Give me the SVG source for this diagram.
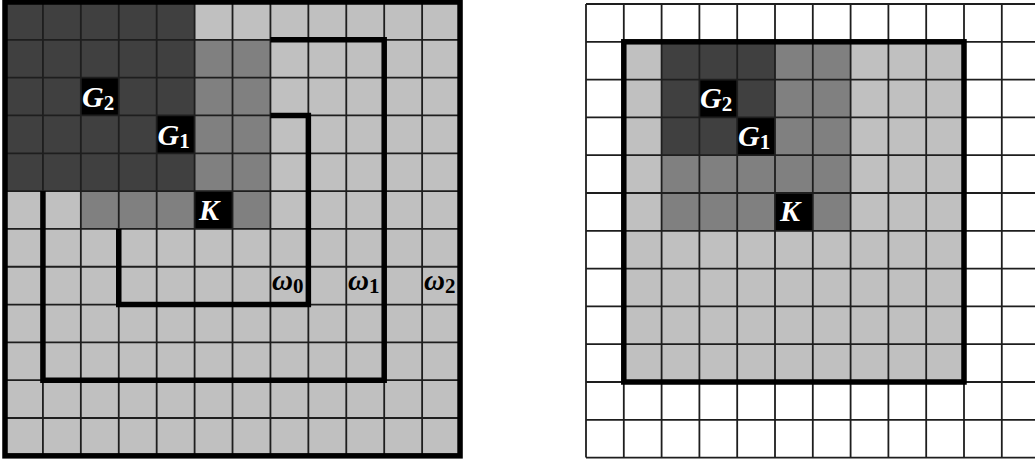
<svg xmlns="http://www.w3.org/2000/svg" width="1035" height="459" viewBox="0 0 1035 459">
<style>
.lt{fill:#c0c0c0}.md{fill:#808080}.dk{fill:#404040}.bk{fill:#000}.wh{fill:#fff}
.grid{stroke:#1e1e1e;stroke-width:1.8;fill:none}
.thick{stroke:#000;stroke-width:5.5;fill:none;stroke-linejoin:miter}
.lab{font-family:"Liberation Serif","DejaVu Serif",serif;font-style:italic;font-weight:bold;font-size:30px}
.om{font-size:29px}
.w{fill:#fff}.b{fill:#000}
.sub{font-style:normal;font-size:21px}
</style>
<g id="left-panel">
<rect class="lt" x="5" y="2" width="455.04" height="453.84"/>
<rect class="dk" x="5" y="2" width="189.6" height="189.1"/>
<rect class="md" x="194.6" y="39.82" width="75.84" height="151.28"/>
<rect class="md" x="80.84" y="191.1" width="113.76" height="37.82"/>
<rect class="md" x="232.52" y="191.1" width="37.92" height="37.82"/>
<rect class="bk" x="80.84" y="77.64" width="37.92" height="37.82"/>
<rect class="bk" x="156.68" y="115.46" width="37.92" height="37.82"/>
<rect class="bk" x="194.6" y="191.1" width="37.92" height="37.82"/>
<path class="grid" d="M42.92,2V455.84M80.84,2V455.84M118.76,2V455.84M156.68,2V455.84M194.6,2V455.84M232.52,2V455.84M270.44,2V455.84M308.36,2V455.84M346.28,2V455.84M384.2,2V455.84M422.12,2V455.84M5,39.82H460.04M5,77.64H460.04M5,115.46H460.04M5,153.28H460.04M5,191.1H460.04M5,228.92H460.04M5,266.74H460.04M5,304.56H460.04M5,342.38H460.04M5,380.2H460.04M5,418.02H460.04"/>
<g id="omega2"><rect class="thick" x="5" y="2" width="455.04" height="453.84"/></g>
<g id="omega0"><path class="thick" d="M270.44,115.46H308.36V304.56H118.76V228.92"/></g>
<g id="omega1"><path class="thick" d="M270.44,39.82H384.2V380.2H42.92V191.1"/></g>
<g id="left-labels">
<text class="lab w" x="82" y="107">G<tspan class="sub" dy="3">2</tspan></text>
<text class="lab w" x="157.5" y="145">G<tspan class="sub" dy="3">1</tspan></text>
<text class="lab w" x="199" y="220">K</text>
<text class="lab om b" x="272" y="290">ω<tspan class="sub" dy="3">0</tspan></text>
<text class="lab om b" x="348" y="290">ω<tspan class="sub" dy="3">1</tspan></text>
<text class="lab om b" x="424" y="290">ω<tspan class="sub" dy="3">2</tspan></text>
</g>
</g>
<g id="right-panel">
<rect class="wh" x="586" y="4" width="453.6" height="453.6"/>
<rect class="lt" x="623.8" y="41.8" width="340.2" height="340.2"/>
<rect class="dk" x="661.6" y="41.8" width="113.4" height="37.8"/>
<rect class="dk" x="661.6" y="79.6" width="75.6" height="75.6"/>
<rect class="dk" x="737.2" y="79.6" width="37.8" height="37.8"/>
<rect class="md" x="775" y="41.8" width="75.6" height="188.9"/>
<rect class="md" x="661.6" y="155.2" width="113.4" height="75.6"/>
<rect class="bk" x="699.4" y="79.6" width="37.8" height="37.8"/>
<rect class="bk" x="737.2" y="117.4" width="37.8" height="37.8"/>
<rect class="bk" x="775" y="193" width="37.8" height="37.8"/>
<path class="grid" d="M586,4V457.6M623.8,4V457.6M661.6,4V457.6M699.4,4V457.6M737.2,4V457.6M775,4V457.6M812.8,4V457.6M850.6,4V457.6M888.4,4V457.6M926.2,4V457.6M964,4V457.6M1001.8,4V457.6M586,4H1035M586,41.8H1035M586,79.6H1035M586,117.4H1035M586,155.2H1035M586,193H1035M586,230.8H1035M586,268.6H1035M586,306.4H1035M586,344.2H1035M586,382H1035M586,419.8H1035M586,457.6H1035"/>
<g id="right-boundary"><rect class="thick" x="623.8" y="41.8" width="340.2" height="340.2"/></g>
<g id="right-labels">
<text class="lab w" x="700" y="108">G<tspan class="sub" dy="3">2</tspan></text>
<text class="lab w" x="738" y="146">G<tspan class="sub" dy="3">1</tspan></text>
<text class="lab w" x="780" y="221">K</text>
</g>
</g>
</svg>
